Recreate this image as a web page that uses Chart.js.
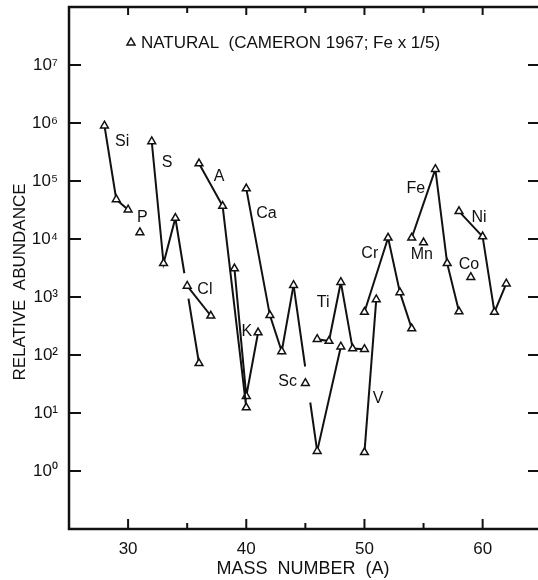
<!DOCTYPE html>
<html>
<head>
<meta charset="utf-8">
<script src="https://cdn.jsdelivr.net/npm/chart.js@4.4.1/dist/chart.umd.min.js"></script>
<style>
  html, body { margin: 0; padding: 0; background: #fff; }
  canvas { display: block; }
</style>
</head>
<body>
<canvas id="abundance" width="538" height="580"></canvas>
<script>
// natural isotopic abundances (Cameron 1967), Si = 10^6, Fe x 1/5
const siMass = [28, 29, 30];
const siAbund = [9.0e5, 4.8e4, 3.2e4];
const pMass = [31];
const pAbund = [1.3e4];
const sMass = [32, 33, 34, 36];
const sAbund = [4.8e5, 3.8e3, 2.3e4, 72];
const clMass = [35, 37];
const clAbund = [1.55e3, 475];
const arMass = [36, 38, 40];
const arAbund = [2.0e5, 3.7e4, 12.4];
const kMass = [39, 40, 41];
const kAbund = [3.1e3, 19.5, 244];
const caMass = [40, 42, 43, 44, 46, 48];
const caAbund = [7.4e4, 483, 115, 1.6e3, 2.2, 139];
const scMass = [45];
const scAbund = [32.6];
const tiMass = [46, 47, 48, 49, 50];
const tiAbund = [187, 174, 1.8e3, 129, 126];
const vMass = [50, 51];
const vAbund = [2.1, 910];
const crMass = [50, 52, 53, 54];
const crAbund = [550, 1.05e4, 1.2e3, 286];
const mnMass = [55];
const mnAbund = [8.7e3];
const feMass = [54, 56, 57, 58];
const feAbund = [1.05e4, 1.6e5, 3.8e3, 560];
const coMass = [59];
const coAbund = [2.2e3];
const niMass = [58, 60, 61, 62];
const niAbund = [3.0e4, 1.1e4, 550, 1.7e3];

const massTicks = [30, 40, 50, 60];
const minorMassTicks = [35, 45, 55];
const abundTicks = [1, 10, 1e2, 1e3, 1e4, 1e5, 1e6, 1e7];

// element names, placed in data coordinates
const elementLabels = [
  { text: 'Si', mass: 29.5, abund: 4.8e5 },
  { text: 'P', mass: 31.2, abund: 2.36e4 },
  { text: 'S', mass: 33.3, abund: 2.1e5 },
  { text: 'Cl', mass: 36.5, abund: 1.36e3 },
  { text: 'A', mass: 37.7, abund: 1.2e5 },
  { text: 'Ca', mass: 41.7, abund: 2.7e4 },
  { text: 'K', mass: 40.05, abund: 257 },
  { text: 'Sc', mass: 43.5, abund: 35 },
  { text: 'Ti', mass: 46.5, abund: 810 },
  { text: 'V', mass: 51.15, abund: 18 },
  { text: 'Cr', mass: 50.45, abund: 5.5e3 },
  { text: 'Mn', mass: 54.85, abund: 5.3e3 },
  { text: 'Fe', mass: 54.35, abund: 7.5e4 },
  { text: 'Co', mass: 58.85, abund: 3.6e3 },
  { text: 'Ni', mass: 59.7, abund: 2.36e4 }
];

const series = [
  ['Si', siMass, siAbund], ['P', pMass, pAbund], ['S', sMass, sAbund],
  ['Cl', clMass, clAbund], ['A', arMass, arAbund], ['K', kMass, kAbund],
  ['Ca', caMass, caAbund], ['Sc', scMass, scAbund], ['Ti', tiMass, tiAbund],
  ['V', vMass, vAbund], ['Cr', crMass, crAbund], ['Mn', mnMass, mnAbund],
  ['Fe', feMass, feAbund], ['Co', coMass, coAbund], ['Ni', niMass, niAbund]
];

// segments broken where they cross a label: [segment index, gap start, gap end] as fraction of length
const lineGaps = { S: [2, 0.38, 0.555], Ca: [3, 0.49, 0.707] };

const ink = '#111';
const family = '"Liberation Sans", Arial, sans-serif';
const sup = { '0': '\u2070', '1': '\u00b9', '2': '\u00b2', '3': '\u00b3', '4': '\u2074',
  '5': '\u2075', '6': '\u2076', '7': '\u2077', '8': '\u2078', '9': '\u2079' };

const datasets = series.map(([name, mass, abund]) => ({
  label: name,
  data: mass.map((m, i) => ({ x: m, y: abund[i] })),
  showLine: true,
  borderColor: ink,
  borderWidth: 2,
  pointStyle: 'triangle',
  pointRadius: 4.5,
  pointBorderWidth: 1.5,
  pointBackgroundColor: '#fff',
  pointBorderColor: ink,
  segment: {
    borderDash: c => {
      const g = lineGaps[name];
      if (!g || c.p0DataIndex !== g[0]) return undefined;
      const len = Math.hypot(c.p1.x - c.p0.x, c.p1.y - c.p0.y);
      return [len * g[1], len * (g[2] - g[1]), len * 2];
    }
  }
}));

const framePlugin = {
  id: 'frame',
  afterDraw(chart) {
    const { ctx, chartArea: a, scales: { x, y } } = chart;
    ctx.save();
    ctx.strokeStyle = ink;
    ctx.lineCap = 'butt';

    // axis lines: left, bottom, top
    ctx.lineWidth = 2.5;
    ctx.beginPath();
    ctx.moveTo(a.right + 1, a.top);
    ctx.lineTo(a.left, a.top);
    ctx.lineTo(a.left, a.bottom);
    ctx.lineTo(a.right + 1, a.bottom);
    ctx.stroke();

    // inward ticks
    ctx.lineWidth = 2;
    ctx.beginPath();
    abundTicks.forEach(v => {
      const py = y.getPixelForValue(v);
      ctx.moveTo(a.left, py); ctx.lineTo(a.left + 12, py);
      ctx.moveTo(a.right + 1, py); ctx.lineTo(a.right - 9, py);
    });
    massTicks.forEach(v => {
      const px = x.getPixelForValue(v);
      ctx.moveTo(px, a.bottom); ctx.lineTo(px, a.bottom - 10);
      ctx.moveTo(px, a.top); ctx.lineTo(px, a.top + 8);
    });
    minorMassTicks.forEach(v => {
      const px = x.getPixelForValue(v);
      ctx.moveTo(px, a.bottom); ctx.lineTo(px, a.bottom - 6);
      ctx.moveTo(px, a.top); ctx.lineTo(px, a.top + 6);
    });
    ctx.stroke();

    // element names
    ctx.fillStyle = ink;
    ctx.font = '16px ' + family;
    ctx.textAlign = 'center';
    ctx.textBaseline = 'middle';
    elementLabels.forEach(l => {
      ctx.fillText(l.text, x.getPixelForValue(l.mass), y.getPixelForValue(l.abund));
    });

    // legend
    const lx = a.left + 62, ly = a.top + 35;
    ctx.lineWidth = 1.5;
    ctx.beginPath();
    ctx.moveTo(lx, ly - 4); ctx.lineTo(lx + 4, ly + 3); ctx.lineTo(lx - 4, ly + 3);
    ctx.closePath();
    ctx.stroke();
    ctx.font = '17px ' + family;
    ctx.textAlign = 'left';
    ctx.fillText('NATURAL  (CAMERON 1967; Fe x 1/5)', lx + 10, ly + 1);

    // y axis title
    ctx.translate(20, 282);
    ctx.rotate(-Math.PI / 2);
    ctx.textAlign = 'center';
    ctx.font = '17px ' + family;
    ctx.fillText('RELATIVE  ABUNDANCE', 0, 0);
    ctx.restore();
  }
};

new Chart(document.getElementById('abundance'), {
  type: 'scatter',
  data: { datasets },
  options: {
    responsive: false,
    animation: false,
    layout: { autoPadding: false, padding: { top: 7, right: 1, left: 0, bottom: 0 } },
    plugins: { legend: { display: false }, tooltip: { enabled: false } },
    scales: {
      x: {
        type: 'linear',
        min: 25,
        max: 64.6,
        afterBuildTicks: s => { s.ticks = massTicks.map(v => ({ value: v })); },
        afterFit: s => { s.height = 51; s.paddingLeft = 0; s.paddingRight = 0; },
        grid: { display: false, drawTicks: false },
        border: { display: false },
        ticks: { padding: 10, maxRotation: 0, color: ink, font: { family, size: 17 } },
        title: { display: true, text: 'MASS  NUMBER  (A)', color: ink, font: { family, size: 18 }, padding: { top: 0, bottom: 0 } }
      },
      y: {
        type: 'logarithmic',
        min: 0.1,
        max: 1e8,
        afterBuildTicks: s => { s.ticks = abundTicks.map(v => ({ value: v })); },
        afterFit: s => { s.width = 69; s.paddingTop = 0; s.paddingBottom = 0; },
        grid: { display: false, drawTicks: false },
        border: { display: false },
        ticks: {
          padding: 11,
          color: ink,
          font: { family, size: 17 },
          callback: v => '10' + String(Math.round(Math.log10(v))).split('').map(d => sup[d]).join('')
        }
      }
    }
  },
  plugins: [framePlugin]
});
</script>
</body>
</html>
